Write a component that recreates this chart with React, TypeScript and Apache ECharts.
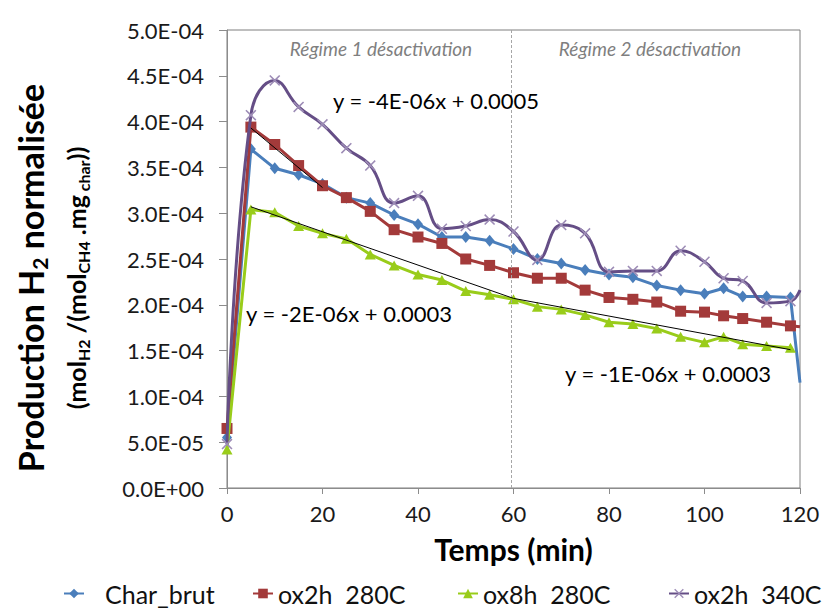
import React, { useEffect, useRef } from 'react';
import * as echarts from 'echarts';

// ---- data ----
const time = [0, 5, 10, 15, 20, 25, 30, 35, 40, 45, 50, 55, 60, 65, 70, 75, 80, 85, 90, 95, 100, 104, 108, 113, 118, 120];

const charBrut = [5.5e-5, 3.70e-4, 3.49e-4, 3.42e-4, 3.32e-4, 3.17e-4, 3.11e-4, 2.98e-4, 2.88e-4, 2.74e-4, 2.74e-4, 2.70e-4, 2.61e-4, 2.50e-4, 2.45e-4, 2.38e-4, 2.33e-4, 2.30e-4, 2.21e-4, 2.16e-4, 2.12e-4, 2.18e-4, 2.09e-4, 2.09e-4, 2.08e-4, 1.15e-4];
const ox2h280 = [6.5e-5, 3.94e-4, 3.75e-4, 3.52e-4, 3.30e-4, 3.17e-4, 3.02e-4, 2.82e-4, 2.74e-4, 2.67e-4, 2.50e-4, 2.43e-4, 2.35e-4, 2.29e-4, 2.29e-4, 2.16e-4, 2.08e-4, 2.06e-4, 2.03e-4, 1.93e-4, 1.92e-4, 1.88e-4, 1.85e-4, 1.81e-4, 1.77e-4, 1.76e-4];
const ox8h280 = [4.2e-5, 3.04e-4, 3.01e-4, 2.86e-4, 2.78e-4, 2.72e-4, 2.55e-4, 2.43e-4, 2.33e-4, 2.27e-4, 2.15e-4, 2.11e-4, 2.06e-4, 1.98e-4, 1.95e-4, 1.89e-4, 1.81e-4, 1.79e-4, 1.74e-4, 1.65e-4, 1.59e-4, 1.65e-4, 1.57e-4, 1.55e-4, 1.53e-4];
const ox2h340 = [4.8e-5, 4.07e-4, 4.45e-4, 4.16e-4, 3.97e-4, 3.71e-4, 3.52e-4, 3.11e-4, 3.19e-4, 2.83e-4, 2.86e-4, 2.93e-4, 2.80e-4, 2.49e-4, 2.87e-4, 2.78e-4, 2.36e-4, 2.37e-4, 2.37e-4, 2.59e-4, 2.47e-4, 2.29e-4, 2.26e-4, 2.02e-4, 2.04e-4, 2.16e-4];

// trend lines (x range and y end points)
const trendRegime1Red = { x: [5, 20], y: [3.93e-4, 3.28e-4] };
const trendRegime1Green = { x: [5, 60], y: [3.07e-4, 2.07e-4] };
const trendRegime2Green = { x: [60, 118], y: [2.07e-4, 1.51e-4] };

const seriesNames = ['Char_brut', 'ox2h  280C', 'ox8h  280C', 'ox2h  340C'];
const equations = ['y = -4E-06x + 0.0005', 'y = -2E-06x + 0.0003', 'y = -1E-06x + 0.0003'];
const regimeLabels = ['Régime 1 désactivation', 'Régime 2 désactivation'];
const regimeBoundary = 59.5;

const xTicks = { min: 0, max: 120, interval: 20 };
const yTicks = { min: 0, max: 5e-4, interval: 5e-5 };

const FONT = 'Lato';
const COLORS = ['#4A7EBB', '#A33A3A', '#99CC1A', '#654E86'];
const CROSS = 'path://M1,0 L5,4 L9,0 L10,1 L6,5 L10,9 L9,10 L5,6 L1,10 L0,9 L4,5 L0,1 Z';

function fmtSci(v: number): string {
  if (v === 0) return '0.0E+00';
  const e = Math.floor(Math.log10(Math.abs(v)) + 1e-9);
  const m = v / Math.pow(10, e);
  const sign = e < 0 ? '-' : '+';
  return m.toFixed(1) + 'E' + sign + String(Math.abs(e)).padStart(2, '0');
}

function toData(xs: number[], ys: number[]) {
  return ys.map((y, i) => (xs[i] >= 120 ? { value: [xs[i], y], symbol: 'none' } : [xs[i], y]));
}

function trend(t: { x: number[]; y: number[] }) {
  return t.x.map((x, i) => [x, t.y[i]]);
}

export default function App() {
  const ref = useRef<HTMLDivElement>(null);
  useEffect(() => {
    const chart = echarts.init(ref.current!, null, { renderer: 'svg' });
    const legendPos = [
      { left: 58, pad: [0, 0, 0, 16] },
      { left: 247, pad: [0, 0, 0, 0] },
      { left: 452, pad: [0, 0, 0, 0] },
      { left: 663, pad: [0, 0, 0, 0] },
    ];
    const trendStyle = { color: '#000', width: 1 };
    const option: any = {
      animation: false,
      backgroundColor: '#fff',
      grid: { left: 227, right: 27, top: 30, bottom: 122, show: true, borderColor: '#7f7f7f', borderWidth: 1 },
      xAxis: {
        type: 'value', min: xTicks.min, max: xTicks.max, interval: xTicks.interval,
        name: 'Temps (min)', nameLocation: 'middle', nameGap: 46,
        nameTextStyle: { fontFamily: FONT, fontWeight: 'bold', fontSize: 30, color: '#000' },
        axisLine: { show: true, lineStyle: { color: '#8c8c8c', width: 1 } },
        axisTick: { show: true, inside: false, length: 6, lineStyle: { color: '#8c8c8c' } },
        axisLabel: { fontFamily: FONT, fontSize: 22, color: '#1a1a1a', margin: 14 },
        splitLine: { show: false },
      },
      yAxis: {
        type: 'value', min: yTicks.min, max: yTicks.max, interval: yTicks.interval,
        axisLine: { show: true, lineStyle: { color: '#8c8c8c', width: 1 } },
        axisTick: { show: true, inside: false, length: 8, lineStyle: { color: '#8c8c8c' } },
        axisLabel: { fontFamily: FONT, fontSize: 22, color: '#1a1a1a', margin: 23, formatter: (v: number) => fmtSci(v) },
        splitLine: { show: false },
      },
      legend: seriesNames.map((n, i) => ({
        data: [n], left: legendPos[i].left, top: 576, itemWidth: 20, itemHeight: 12, itemGap: 0,
        textStyle: { fontFamily: FONT, fontSize: 25, color: '#111', padding: legendPos[i].pad },
      })),
      series: [
        {
          name: seriesNames[0], type: 'line', data: toData(time, charBrut), symbol: 'diamond', symbolSize: [10, 12],
          lineStyle: { color: COLORS[0], width: 3 }, itemStyle: { color: COLORS[0] }, z: 2,
          markLine: {
            silent: true, symbol: 'none', label: { show: false },
            lineStyle: { color: '#a6a6a6', type: [3, 2], width: 1 },
            data: [{ xAxis: regimeBoundary }],
          },
        },
        {
          name: seriesNames[1], type: 'line', data: toData(time, ox2h280), symbol: 'rect', symbolSize: 11,
          lineStyle: { color: COLORS[1], width: 3 }, itemStyle: { color: COLORS[1] }, z: 3,
        },
        {
          name: seriesNames[2], type: 'line', data: toData(time, ox8h280), symbol: 'triangle', symbolSize: [11, 10],
          lineStyle: { color: COLORS[2], width: 3 }, itemStyle: { color: COLORS[2] }, z: 4,
        },
        {
          name: seriesNames[3], type: 'line', data: toData(time, ox2h340), symbol: CROSS, symbolSize: 11, smooth: 0.45,
          lineStyle: { color: COLORS[3], width: 3 }, itemStyle: { color: '#9d8cb6' }, z: 5,
        },
        { type: 'line', data: trend(trendRegime1Red), symbol: 'none', lineStyle: trendStyle, z: 6, silent: true },
        { type: 'line', data: trend(trendRegime1Green), symbol: 'none', lineStyle: trendStyle, z: 6, silent: true },
        { type: 'line', data: trend(trendRegime2Green), symbol: 'none', lineStyle: trendStyle, z: 6, silent: true },
      ],
      graphic: [
        {
          type: 'text', x: 30, y: 278, rotation: Math.PI / 2,
          style: {
            text: '{m|Production H}{s|2}{m| normalisée}', align: 'center', verticalAlign: 'middle',
            rich: {
              m: { fontFamily: FONT, fontWeight: 'bold', fontSize: 34, lineHeight: 40, fill: '#000' },
              s: { fontFamily: FONT, fontWeight: 'bold', fontSize: 21, lineHeight: 21, verticalAlign: 'bottom', fill: '#000' },
            },
          },
        },
        {
          type: 'text', x: 76, y: 278, rotation: Math.PI / 2,
          style: {
            text: '{m|(mol}{s|H2}{m| /(mol}{s|CH4}{m| .mg}{s| char}{m|))}', align: 'center', verticalAlign: 'middle',
            rich: {
              m: { fontFamily: FONT, fontWeight: 'bold', fontSize: 25, lineHeight: 31, fill: '#000' },
              s: { fontFamily: FONT, fontWeight: 'bold', fontSize: 16, lineHeight: 16, verticalAlign: 'bottom', fill: '#000' },
            },
          },
        },
        { type: 'text', x: 381, y: 48, style: { text: regimeLabels[0], align: 'center', verticalAlign: 'middle', fontFamily: FONT, fontStyle: 'italic', fontSize: 19, fill: '#7f7f7f' } },
        { type: 'text', x: 650, y: 48, style: { text: regimeLabels[1], align: 'center', verticalAlign: 'middle', fontFamily: FONT, fontStyle: 'italic', fontSize: 19, fill: '#7f7f7f' } },
        { type: 'text', x: 333, y: 100, z: 10, style: { text: equations[0], align: 'left', verticalAlign: 'middle', fontFamily: FONT, fontSize: 22, fill: '#000' } },
        { type: 'text', x: 246, y: 313, z: 10, style: { text: equations[1], align: 'left', verticalAlign: 'middle', fontFamily: FONT, fontSize: 22, fill: '#000' } },
        { type: 'text', x: 565, y: 373, z: 10, style: { text: equations[2], align: 'left', verticalAlign: 'middle', fontFamily: FONT, fontSize: 22, fill: '#000' } },
      ],
    };
    chart.setOption(option);
    return () => chart.dispose();
  }, []);
  return <div ref={ref} style={{ position: 'absolute', left: 0, top: 0, width: 827, height: 610 }} />;
}
